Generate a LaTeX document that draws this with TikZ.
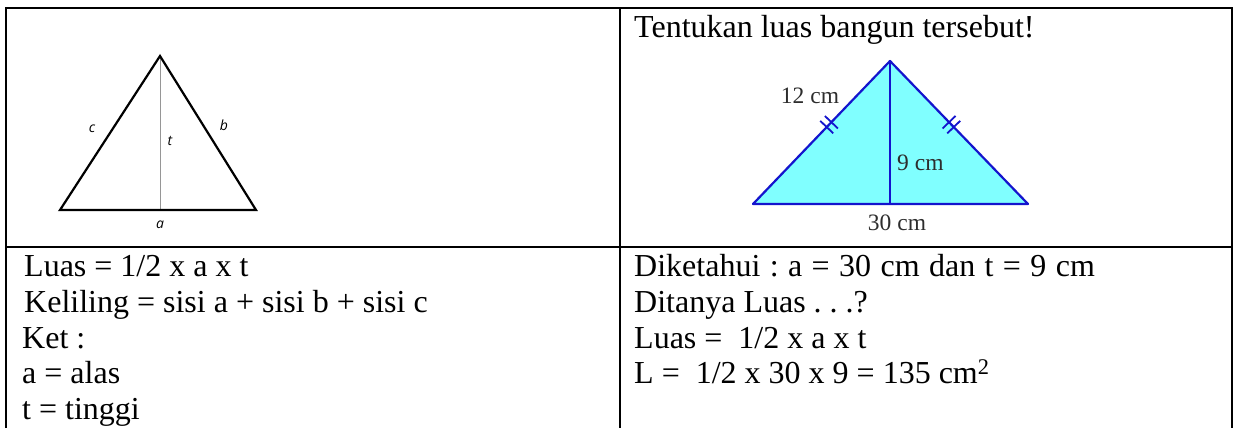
\documentclass[tikz,border=0pt]{standalone}
\usepackage{fontspec}
\setmainfont{Liberation Serif}
\newfontfamily\figfont{Open Sans}
\usepackage{xcolor}
\definecolor{trgblue}{RGB}{20,20,205}
\definecolor{trgcyan}{RGB}{128,255,255}
\definecolor{lblgray}{RGB}{45,45,45}
\definecolor{altgray}{RGB}{150,150,150}
\usetikzlibrary{calc}
\frenchspacing

\begin{document}
\begin{tikzpicture}[x=1pt, y=-1pt,
    cell/.style={line width=1.6pt, black},
    txt/.style={anchor=base west, inner sep=0pt, font=\fontsize{32}{36}\selectfont},
    sidelbl/.style={inner sep=0pt, font=\figfont\itshape\fontsize{14}{16}\selectfont},
    cmlbl/.style={inner sep=0pt, lblgray, font=\fontsize{23.5}{26}\selectfont},
    edge/.style={line width=2.2pt, trgblue, line join=round},
    tickmark/.style={line width=1.8pt, trgblue}
  ]
  \useasboundingbox (0,0) rectangle (1238,428);

  % table
  \draw[cell] (6,428) -- (6,8) -- (1232,8) -- (1232,428);
  \draw[cell] (6,247) -- (1232,247);
  \draw[cell] (620,8) -- (620,428);

  % left triangle
  \coordinate (lA) at (60,210);
  \coordinate (lB) at (256,210);
  \coordinate (lC) at (160,56);
  \coordinate (lH) at (160,210);
  \draw[altgray, line width=1pt] (lC) -- (lH);
  \draw[line width=2.2pt] (lA) -- (lB) -- (lC) -- cycle;
  \node[sidelbl] (lblc) at (92,129) {c};
  \node[sidelbl] (lblt) at (170,141) {t};
  \node[sidelbl] (lblb) at (224,125) {b};
  \node[sidelbl] (lbla) at (160,225) {a};

  % right triangle
  \node[txt] (title) at (634,37.3) {Tentukan luas bangun tersebut!};
  \coordinate (rA) at (753,204);
  \coordinate (rB) at (1028,204);
  \coordinate (rC) at (890,61);
  \coordinate (rH) at (890,204);
  \fill[trgcyan] (rA) -- (rB) -- (rC) -- cycle;
  \draw[edge] (rA) -- (rB) -- (rC) -- cycle;
  \draw[edge] (rC) -- (rH);
  \foreach \p in {0.428,0.462} {
    \coordinate (mL) at ($(rC)!\p!(rA)$);
    \coordinate (mR) at ($(rC)!\p!(rB)$);
    \draw[tickmark] ($(mL)!9pt!90:(rA)$) -- ($(mL)!9pt!-90:(rA)$);
    \draw[tickmark] ($(mR)!9pt!90:(rB)$) -- ($(mR)!9pt!-90:(rB)$);
  }
  \node[cmlbl] (sidelen) at (810,96) {12 cm};
  \node[cmlbl, anchor=west] (heightlen) at (897,163) {9 cm};
  \node[cmlbl] (baselen) at (897,223) {30 cm};

  % formulas
  \node[txt] (rumus1) at (24,276.5) {Luas = 1/2 x a x t};
  \node[txt] (rumus2) at (24,312.3) {Keliling = sisi a + sisi b + sisi c};
  \node[txt] (ket)    at (22,348.1) {Ket :};
  \node[txt] (ketA)   at (22,383.9) {a = alas};
  \node[txt] (ketT)   at (22,419.7) {t = tinggi};

  \node[txt] (diket)  at (634,276.5) {\spaceskip=9.4pt Diketahui : a = 30 cm dan t = 9 cm};
  \node[txt] (ditanya)at (634,312.3) {Ditanya Luas . . .?};
  \node[txt] (jawab1) at (634,348.1) {Luas =\ \ 1/2 x a x t};
  \node[txt] (jawab2) at (634,383.9) {L =\ \ 1/2 x 30 x 9 = 135 cm\textsuperscript{2}};
\end{tikzpicture}
\end{document}
